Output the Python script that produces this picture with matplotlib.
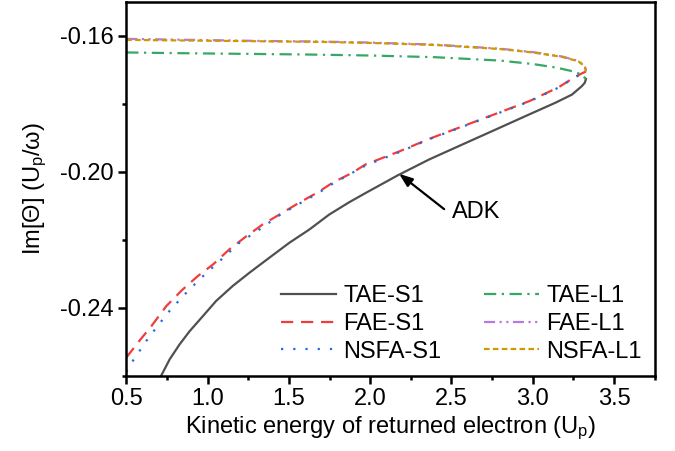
import matplotlib
matplotlib.use('Agg')
import matplotlib.pyplot as plt

plt.rcParams['font.family'] = ['Liberation Sans', 'DejaVu Sans']
plt.rcParams['mathtext.fontset'] = 'custom'
plt.rcParams['mathtext.rm'] = 'Liberation Sans'
plt.rcParams['mathtext.it'] = 'Liberation Sans:italic'

# short trajectories (S1)
x_tae_s1 = [0.715, 0.767, 0.828, 0.890, 0.971, 1.053, 1.155, 1.258, 1.380, 1.503, 1.626, 1.748, 1.87, 1.974,
            2.168, 2.362, 2.566, 2.771, 2.975, 3.139, 3.241, 3.302, 3.320, 3.327]
y_tae_s1 = [-0.2600, -0.2552, -0.2508, -0.2469, -0.2425, -0.2380, -0.2336, -0.2297, -0.2253, -0.2209, -0.2170,
            -0.2126, -0.2090, -0.2062, -0.2011, -0.1964, -0.1920, -0.1876, -0.1832, -0.1797, -0.1773, -0.1748,
            -0.1738, -0.1727]

x_fae_s1 = [0.5, 0.58, 0.655, 0.747, 0.848, 0.940, 1.033, 1.135, 1.227, 1.339, 1.442, 1.564, 1.68, 1.77, 1.89,
            1.97, 2.18, 2.37, 2.57, 2.77, 2.98, 3.16, 3.26, 3.30, 3.327]
y_fae_s1 = [-0.2547, -0.2498, -0.2454, -0.2395, -0.2346, -0.2307, -0.2273, -0.2228, -0.2194, -0.2155, -0.2126,
            -0.2091, -0.2060, -0.2032, -0.2003, -0.1979, -0.1940, -0.1902, -0.1866, -0.1830, -0.1792, -0.1751,
            -0.1721, -0.1711, -0.1705]

x_nsfa_s1 = [0.5, 0.54, 0.62, 0.664, 0.756, 0.859, 0.961, 1.074, 1.196, 1.319, 1.442, 1.564, 1.68, 1.77, 1.97,
             2.18, 2.37, 2.57, 2.77, 2.98, 3.16, 3.26, 3.30, 3.327]
y_nsfa_s1 = [-0.2589, -0.2557, -0.2500, -0.2472, -0.2415, -0.2361, -0.2312, -0.2263, -0.2209, -0.2170, -0.2128,
             -0.2094, -0.2063, -0.2035, -0.1982, -0.1942, -0.1903, -0.1867, -0.1831, -0.1793, -0.1752, -0.1722,
             -0.1712, -0.1705]

# long trajectories (L1)
x_tae_l1 = [0.5, 0.8, 1.2, 1.6, 2.0, 2.4, 2.8, 3.0, 3.15, 3.25, 3.30, 3.327]
y_tae_l1 = [-0.1649, -0.1651, -0.1653, -0.1655, -0.1658, -0.1663, -0.1673, -0.1683, -0.1694, -0.1705, -0.1714, -0.1727]

x_fae_l1 = [0.5, 0.9, 1.3, 1.7, 2.0, 2.4, 2.8, 3.0, 3.18, 3.28, 3.32, 3.327]
y_fae_l1 = [-0.1609, -0.1612, -0.1615, -0.1617, -0.1620, -0.1626, -0.1638, -0.1648, -0.1661, -0.1674, -0.1689, -0.1705]

x_nsfa_l1 = [0.5, 0.9, 1.3, 1.7, 2.0, 2.4, 2.8, 3.0, 3.18, 3.28, 3.32, 3.327]
y_nsfa_l1 = [-0.1612, -0.1614, -0.1616, -0.1618, -0.1621, -0.1627, -0.1639, -0.1649, -0.1662, -0.1675, -0.1690, -0.1705]

fig = plt.figure(figsize=(6.75, 4.51), dpi=100)
ax = fig.add_axes([0.187, 0.167, 0.783, 0.829])

lw = 1.6
ax.plot(x_tae_s1, y_tae_s1, color='#505050', lw=lw, label='TAE-S1')
ax.plot(x_fae_s1, y_fae_s1, color='#f23c3c', lw=lw, dashes=(5.5, 3.5), label='FAE-S1')
ax.plot(x_nsfa_s1, y_nsfa_s1, color='#1a6fe0', lw=lw, dashes=(1, 4.5), label='NSFA-S1')
ax.plot(x_tae_l1, y_tae_l1, color='#35a866', lw=lw, dashes=(5.5, 2.5, 1, 2.5), label='TAE-L1')
ax.plot(x_fae_l1, y_fae_l1, color='#b47ae0', lw=lw, dashes=(5, 2, 1, 2, 1, 2), label='FAE-L1')
ax.plot(x_nsfa_l1, y_nsfa_l1, color='#cf9a00', lw=lw, dashes=(2.5, 1.5), label='NSFA-L1')

ax.annotate('', xy=(2.178, -0.2006), xytext=(2.455, -0.2110),
            arrowprops=dict(arrowstyle='-|>,head_length=0.8,head_width=0.3', color='black', lw=1.6,
                            shrinkA=0, shrinkB=0))
ax.text(2.50, -0.2118, 'ADK', fontsize=17, ha='left', va='center')

ax.set_xlim(0.5, 3.75)
ax.set_ylim(-0.26, -0.15)
ax.set_xticks([0.5, 1.0, 1.5, 2.0, 2.5, 3.0, 3.5])
ax.set_xticks([0.75, 1.25, 1.75, 2.25, 2.75, 3.25, 3.75], minor=True)
ax.set_yticks([-0.24, -0.20, -0.16])
ax.set_yticklabels(['-0.24', '-0.20', '-0.16'])
ax.set_yticks([-0.26, -0.22, -0.18], minor=True)
ax.tick_params(which='both', direction='out', width=1.8, labelsize=17, top=False, right=False)
ax.tick_params(which='major', length=6, pad=3)
ax.tick_params(which='minor', length=3)
for s in ax.spines.values():
    s.set_linewidth(1.8)

ax.set_xlabel(r'Kinetic energy of returned electron (U$_\mathregular{p}$)', fontsize=17, labelpad=3)
ax.set_ylabel(r'Im[Θ] (U$_\mathregular{p}$/ω)', fontsize=17, labelpad=8)

ax.legend(ncol=2, loc='lower right', frameon=False, fontsize=17, handlelength=2.35, handletextpad=0.3,
          columnspacing=1.8, labelspacing=0.25, borderaxespad=0.15, bbox_to_anchor=(1.0, 0.0))

plt.savefig('out.png', dpi=100)
